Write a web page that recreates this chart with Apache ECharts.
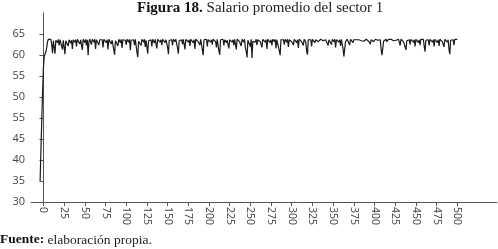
<!DOCTYPE html>
<html>
<head>
<meta charset="utf-8">
<script src="https://cdn.jsdelivr.net/npm/echarts@6/dist/echarts.min.js"></script>
<style>
html,body{margin:0;padding:0;background:#fff;}
#c{width:498px;height:249px;}
</style>
</head>
<body>
<div id="c"></div>
<script>
// Tick labels exactly as printed in the reference (bottom to top)
const yTickLabels = ['30','35','40','45','55','50','55','60','65'];
const xTickLabels = [0,25,50,75,100,125,150,175,200,225,250,275,300,325,350,375,400,425,450,475,500];
const xStart = -4;
// Salario promedio del sector 1, one value per step starting at xStart
const salario = [
34.4,41,47,53,58,60.3,60.8,61.3,62.2,63.4,
63.9,63.8,63.5,63.9,62.8,61.0,63.6,63.9,60.9,63.7,
63.8,63.2,63.9,62.6,63.8,63.5,63.9,61.8,63.7,63.9,
60.8,63.6,63.9,63.4,62.5,63.8,63.9,63.1,63.7,61.9,
63.8,63.9,63.3,63.8,62.4,63.9,63.6,63.9,62.9,63.8,
63.5,61.7,63.9,63.7,63.2,63.9,62.6,63.8,60.6,63.4,
63.9,63.6,62.8,63.9,63.7,63.3,63.9,61.9,63.8,63.6,
63.9,62.7,63.8,63.9,63.4,63.8,62.2,63.9,63.7,63.9,
63.2,63.8,61.8,63.9,63.6,63.9,62.9,63.7,63.9,63.5,
60.7,63.6,63.9,63.8,62.5,63.9,63.6,63.2,63.9,62.1,
63.8,63.9,63.4,63.7,62.8,63.9,63.8,63.3,63.9,61.6,
63.7,63.9,63.5,63.8,62.7,63.9,63.6,61.2,60.2,63.5,
63.9,63.7,62.6,63.9,63.8,63.3,63.9,62.3,63.7,63.9,
60.9,63.6,63.9,63.4,63.8,62.4,63.9,63.7,63.1,63.9,
63.8,62.0,63.9,63.6,63.9,63.3,63.8,62.7,63.9,63.6,
63.9,63.2,63.8,63.9,62.3,60.8,63.7,63.9,63.5,63.8,
62.6,63.9,63.7,63.4,63.9,63.8,62.1,60.9,63.6,63.9,
63.5,63.8,62.9,63.9,63.7,61.8,63.9,63.6,63.9,63.3,
63.8,62.5,63.9,63.7,63.9,63.2,63.8,61.9,63.9,63.6,
63.9,63.4,63.8,62.7,63.9,63.6,61.7,60.6,63.8,63.9,
63.5,63.9,62.4,63.8,63.7,63.9,63.3,63.8,62.8,63.9,
63.6,63.9,63.4,62.2,63.9,63.7,61.5,60.7,63.8,63.9,
63.5,63.9,62.6,63.8,63.9,63.2,63.7,63.9,62.0,63.8,
63.6,63.9,63.3,63.8,62.7,63.9,63.7,61.8,63.9,63.6,
63.9,63.4,63.8,62.5,63.9,63.7,63.3,63.9,62.1,61.4,
60.1,63.7,63.9,63.6,62.4,63.9,60.0,63.5,63.9,63.8,
63.3,63.9,62.7,63.8,63.6,63.9,63.4,63.8,62.2,63.9,
63.7,63.9,63.3,63.8,61.9,63.9,63.6,63.9,63.2,63.8,
62.6,63.9,63.7,63.4,63.9,62.0,63.8,63.6,63.9,61.5,
60.6,63.8,63.9,63.5,63.8,62.8,63.9,63.7,63.3,63.9,
62.3,63.8,63.6,63.9,63.4,63.8,62.7,63.9,63.7,63.9,
63.2,63.8,62.1,63.9,63.6,63.9,63.4,63.8,62.6,63.9,
63.7,63.3,61.4,60.7,63.8,63.9,63.5,63.8,62.4,63.9,
63.6,63.9,63.2,63.8,63.7,63.9,63.4,63.8,63.6,63.9,
63.5,63.8,63.6,63.9,63.3,63.8,63.7,63.9,62.6,63.8,
63.9,63.5,62.8,63.9,63.7,63.4,63.9,62.2,63.8,63.6,
63.9,63.3,63.8,62.5,63.9,63.7,61.9,60.3,60.0,63.4,
63.8,63.9,63.5,63.8,62.7,63.9,63.6,63.9,63.2,63.8,
63.9,63.5,63.8,63.9,63.4,63.8,63.7,63.9,63.6,63.8,
63.9,63.5,63.8,63.6,63.9,63.7,63.8,63.5,63.9,62.9,
63.8,63.6,63.9,63.4,63.8,63.9,63.5,63.8,63.7,63.9,
63.3,63.8,61.8,60.6,60.2,63.5,63.9,63.7,63.9,63.4,
63.8,63.9,63.6,63.8,63.9,63.7,63.9,63.6,63.8,63.9,
63.7,63.8,63.5,63.9,63.8,62.6,63.9,63.7,63.9,63.4,
63.8,62.3,61.7,63.6,63.9,63.5,63.8,62.8,63.9,63.7,
63.9,63.3,63.8,62.4,63.9,63.6,63.9,63.2,63.8,62.7,
63.9,63.6,63.8,63.9,62.5,61.3,63.7,63.9,63.4,63.8,
62.6,63.9,63.7,63.9,63.3,63.8,62.4,63.9,63.6,63.9,
63.2,63.8,62.5,63.9,63.7,63.9,63.4,63.8,62.3,63.9,
63.6,63.9,63.3,63.8,61.8,60.8,63.7,63.9,63.5,63.8,
62.7,63.9,63.6,63.8,63.9
];

const Y0 = 30, YSTEP = 4.375;
const yTickValues = yTickLabels.map((_, i) => Y0 + i * YSTEP);
const lineData = salario.map((v, i) => [xStart + i, v]);

const chart = echarts.init(document.getElementById('c'), null, {renderer: 'canvas'});
chart.setOption({
  animation: false,
  backgroundColor: '#fff',
  title: [{
    text: '{b|Figura 18.}{n| Salario promedio del sector 1}',
    left: 137, top: 1, padding: 0,
    textStyle: {
      fontWeight: 'normal',
      rich: {
        b: {fontFamily: 'Liberation Serif', fontWeight: 'bold', fontSize: 15, color: '#111'},
        n: {fontFamily: 'Liberation Serif', fontWeight: 'normal', fontSize: 15, color: '#222'}
      }
    }
  }, {
    text: '{b|Fuente:}{n| elaboración propia.}',
    left: 0, top: 233, padding: 0,
    textStyle: {
      fontWeight: 'normal',
      rich: {
        b: {fontFamily: 'Liberation Serif', fontWeight: 'bold', fontSize: 13.5, color: '#111'},
        n: {fontFamily: 'Liberation Serif', fontWeight: 'normal', fontSize: 13.5, color: '#222'}
      }
    }
  }],
  grid: {left: 31, right: 1, top: 13, bottom: 47, containLabel: false},
  xAxis: {
    type: 'value', min: -15, max: 548,
    splitLine: {show: false},
    axisLine: {show: true, onZero: false, lineStyle: {color: '#555', width: 1}},
    axisTick: {show: true, length: 4, customValues: xTickLabels, lineStyle: {color: '#555'}},
    axisLabel: {
      customValues: xTickLabels, rotate: -90, margin: 5,
      fontFamily: 'Open Sans', fontSize: 10.5, color: '#444'
    }
  },
  yAxis: {
    type: 'value', min: Y0, max: Y0 + 9 * YSTEP,
    splitLine: {show: false},
    axisLine: {show: true, lineStyle: {color: '#555', width: 1}},
    axisTick: {show: true, length: 4, customValues: yTickValues, lineStyle: {color: '#555'}},
    axisLabel: {
      customValues: yTickValues, margin: 6,
      fontFamily: 'Open Sans', fontSize: 11, color: '#444',
      formatter: v => yTickLabels[Math.round((v - Y0) / YSTEP)] || ''
    }
  },
  series: [{
    type: 'line', data: lineData, showSymbol: false, symbol: 'none',
    lineStyle: {color: '#1a1a1a', width: 1.2},
    silent: true
  }]
});
</script>
</body>
</html>
